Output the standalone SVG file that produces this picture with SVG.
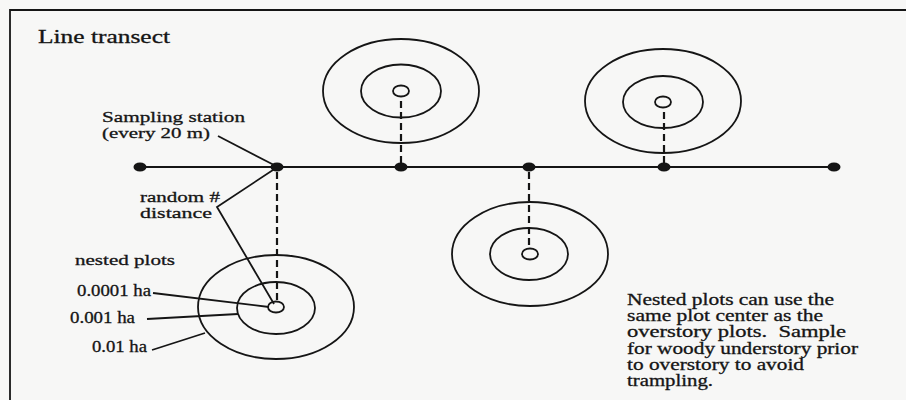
<svg xmlns="http://www.w3.org/2000/svg" width="906" height="400" viewBox="0 0 906 400">
  <style>
    .ink { fill: none; stroke: #151515; stroke-width: 1.8; }
    .ring { fill: none; stroke: #151515; stroke-width: 1.8; }
    .dash { fill: none; stroke: #151515; stroke-width: 2.2; stroke-dasharray: 7 4; }
    .dot { fill: #151515; }
    text { font-family: "Liberation Serif", "Times New Roman", serif; fill: #151515; stroke: #151515; stroke-width: 0.3; }
    .t15 { font-size: 15.5px; }
    .t16 { font-size: 18px; }
    .t14 { font-size: 16px; }
  </style>

  <!-- paper and frame -->
  <rect x="0" y="0" width="906" height="400" fill="#f7f7f6"/>
  <path class="ink" d="M10 400 V10 H906"/>

  <!-- connectors: transect, plot offsets, leaders -->
  <g id="connectors">
    <line class="ink" x1="140" y1="167" x2="834" y2="167" stroke-width="2.2"/>
    <line class="dash" x1="277" y1="172" x2="277" y2="301"/>
    <line class="dash" x1="401" y1="163" x2="401" y2="97"/>
    <line class="dash" x1="529" y1="172" x2="529" y2="249"/>
    <line class="dash" x1="664" y1="163" x2="664" y2="108"/>
    <line class="ink" x1="218" y1="136" x2="274" y2="165"/>
    <polyline class="ink" points="276,168 217,207 274,304"/>
    <line class="ink" x1="153" y1="293" x2="269" y2="307"/>
    <line class="ink" x1="147" y1="319" x2="238" y2="314"/>
    <line class="ink" x1="152" y1="350" x2="205" y2="333"/>
  </g>

  <!-- sampling stations along the transect -->
  <g id="stations">
    <ellipse class="dot" cx="140" cy="167" rx="6.5" ry="4.5"/>
    <ellipse class="dot" cx="277" cy="167" rx="6.5" ry="4.5"/>
    <ellipse class="dot" cx="401" cy="167" rx="6.5" ry="4.5"/>
    <ellipse class="dot" cx="529" cy="167" rx="6.5" ry="4.5"/>
    <ellipse class="dot" cx="664" cy="167" rx="6.5" ry="4.5"/>
    <ellipse class="dot" cx="834" cy="167" rx="6.5" ry="4.5"/>
  </g>

  <!-- nested plots -->
  <g id="plot-a">
    <ellipse class="ring" cx="276" cy="307" rx="78" ry="52"/>
    <ellipse class="ring" cx="276" cy="308" rx="39" ry="26"/>
    <ellipse class="ring" cx="276" cy="307" rx="8" ry="5.5"/>
  </g>
  <g id="plot-b">
    <ellipse class="ring" cx="401" cy="91" rx="78" ry="52"/>
    <ellipse class="ring" cx="401" cy="91" rx="40" ry="26.5"/>
    <ellipse class="ring" cx="401" cy="91" rx="8" ry="5.5"/>
  </g>
  <g id="plot-c">
    <ellipse class="ring" cx="530" cy="254" rx="78" ry="52"/>
    <ellipse class="ring" cx="529" cy="254" rx="39" ry="26"/>
    <ellipse class="ring" cx="530" cy="254" rx="8" ry="5.5"/>
  </g>
  <g id="plot-d">
    <ellipse class="ring" cx="663" cy="101" rx="78" ry="52"/>
    <ellipse class="ring" cx="663" cy="102" rx="40" ry="26"/>
    <ellipse class="ring" cx="663" cy="102" rx="8" ry="5.5"/>
  </g>

  <!-- labels -->
  <g id="title">
    <text class="t16" x="38" y="43" textLength="132" lengthAdjust="spacingAndGlyphs">Line transect</text>
  </g>
  <g id="station-label">
    <text class="t15" x="102" y="122" textLength="143" lengthAdjust="spacingAndGlyphs">Sampling station</text>
    <text class="t15" x="102" y="138" textLength="108" lengthAdjust="spacingAndGlyphs">(every 20 m)</text>
  </g>
  <g id="distance-label">
    <text class="t15" x="140" y="202" textLength="80" lengthAdjust="spacingAndGlyphs">random #</text>
    <text class="t15" x="140" y="218" textLength="72" lengthAdjust="spacingAndGlyphs">distance</text>
  </g>
  <g id="plot-sizes">
    <text class="t15" x="75" y="265" textLength="100" lengthAdjust="spacingAndGlyphs">nested plots</text>
    <text class="t14" x="77" y="296" textLength="74" lengthAdjust="spacingAndGlyphs">0.0001 ha</text>
    <text class="t14" x="70" y="323" textLength="65" lengthAdjust="spacingAndGlyphs">0.001 ha</text>
    <text class="t14" x="92" y="352" textLength="55" lengthAdjust="spacingAndGlyphs">0.01 ha</text>
  </g>
  <g id="note">
    <text class="t14" x="627" y="305" textLength="207" lengthAdjust="spacingAndGlyphs">Nested plots can use the</text>
    <text class="t14" x="627" y="321" textLength="196" lengthAdjust="spacingAndGlyphs">same plot center as the</text>
    <text class="t14" x="627" y="337" textLength="219" lengthAdjust="spacingAndGlyphs" xml:space="preserve">overstory plots.  Sample</text>
    <text class="t14" x="627" y="354" textLength="231" lengthAdjust="spacingAndGlyphs">for woody understory prior</text>
    <text class="t14" x="627" y="370" textLength="177" lengthAdjust="spacingAndGlyphs">to overstory to avoid</text>
    <text class="t14" x="627" y="386" textLength="86" lengthAdjust="spacingAndGlyphs">trampling.</text>
  </g>
</svg>
